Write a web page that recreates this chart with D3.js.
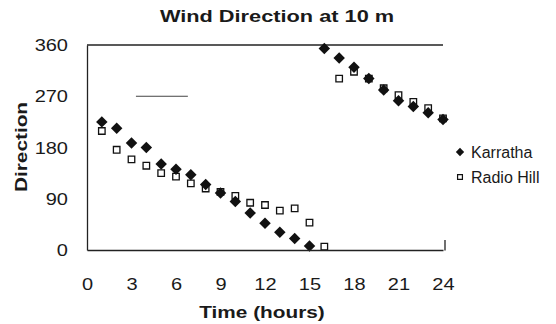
<!DOCTYPE html>
<html>
<head>
<meta charset="utf-8">
<script src="https://cdn.jsdelivr.net/npm/d3@7"></script>
<style>
  body { margin: 0; background: #fff; }
  text { font-family: "Liberation Sans", Arial, sans-serif; fill: #1a1a1a; }
</style>
</head>
<body>
<svg width="556" height="324"></svg>
<script>
// hours and wind direction (degrees)
const hours = d3.range(1, 25)
const karratha = [225, 214, 188, 180, 151, 142, 132, 115, 100, 85, 65, 47, 31, 20, 7,
  354, 337, 321, 301, 281, 262, 252, 241, 229]
const radioHill = [209, 176, 159, 148, 135, 129, 117, 108, 102, 95, 83, 79, 69, 73, 48,
  6, 301, 313, 301, 284, 272, 260, 249, 231]
const xTicks = [0, 3, 6, 9, 12, 15, 18, 21, 24]
const yTicks = [0, 90, 180, 270, 360]
const seriesNames = ['Karratha', 'Radio Hill']

const margin = {top: 44, right: 116, bottom: 74, left: 87}
const width = 556
const height = 324

const x = d3.scaleLinear().domain([0, 24]).range([margin.left, width - margin.right + 3])
const y = d3.scaleLinear().domain([0, 360]).range([height - margin.bottom, margin.top + 1])

const svg = d3.select('svg')
const ink = '#111'

// stray gridline fragment at 270
svg.append('line')
  .attr('x1', x(3.3)).attr('x2', x(6.8))
  .attr('y1', y(270)).attr('y2', y(270))
  .attr('stroke', '#444').attr('stroke-width', 1)

// top border
svg.append('line')
  .attr('x1', x(0)).attr('x2', x(24))
  .attr('y1', y(360)).attr('y2', y(360))
  .attr('stroke', '#222').attr('stroke-width', 1.3)

const diamond = d3.symbol().type(d3.symbolDiamond2)
const square = d3.symbol().type(d3.symbolSquare2)

svg.append('g')
  .selectAll('path')
  .data(hours.map((h, i) => ({h, v: radioHill[i]})))
  .join('path')
  .attr('transform', d => `translate(${x(d.h)},${y(d.v)})`)
  .attr('d', square.size(54)())
  .attr('fill', '#fff')
  .attr('stroke', ink)
  .attr('stroke-width', 1.3)

svg.append('g')
  .selectAll('path')
  .data(hours.map((h, i) => ({h, v: karratha[i]})))
  .join('path')
  .attr('transform', d => `translate(${x(d.h)},${y(d.v)})`)
  .attr('d', diamond.size(84)())
  .attr('fill', ink)

const yAxis = g => g
  .attr('transform', `translate(${x(0)},0)`)
  .call(d3.axisLeft(y).tickValues(yTicks).tickSize(0).tickSizeOuter(0))
  .call(g => g.select('.domain').attr('stroke', '#222').attr('stroke-width', 1.3))
  .call(g => g.selectAll('text')
    .attr('x', 0)
    .attr('dy', '0.35em')
    .attr('transform', 'translate(-19,0) scale(1.25,1)')
    .attr('font-size', 16)
    .attr('font-family', '"Liberation Sans", Arial, sans-serif')
    .attr('fill', '#1a1a1a'))

const xAxis = g => g
  .attr('transform', `translate(0,${y(0)})`)
  .call(d3.axisBottom(x).tickValues(xTicks).tickSize(0).tickSizeOuter(0))
  .call(g => g.select('.domain').attr('stroke', '#222').attr('stroke-width', 1.3))
  .call(g => g.selectAll('text')
    .attr('y', 0)
    .attr('dy', '0.35em')
    .attr('transform', 'translate(0,34) scale(1.25,1)')
    .attr('font-size', 16)
    .attr('font-family', '"Liberation Sans", Arial, sans-serif')
    .attr('fill', '#1a1a1a'))

svg.append('g').call(xAxis)
svg.append('g').call(yAxis)

// short end mark at the right of the x axis
svg.append('line')
  .attr('x1', x(24) + 2).attr('x2', x(24) + 2)
  .attr('y1', y(0) - 10).attr('y2', y(0) + 0.6)
  .attr('stroke', '#222').attr('stroke-width', 1.3)

svg.append('text')
  .attr('transform', 'translate(277,22) scale(1.28,1)')
  .attr('text-anchor', 'middle')
  .attr('font-weight', 'bold')
  .attr('font-size', 17)
  .text('Wind Direction at 10 m')

svg.append('text')
  .attr('transform', 'translate(262,318) scale(1.3,1)')
  .attr('text-anchor', 'middle')
  .attr('font-weight', 'bold')
  .attr('font-size', 16)
  .text('Time (hours)')

svg.append('text')
  .attr('transform', 'translate(21,147) rotate(-90) scale(1.3,1)')
  .attr('text-anchor', 'middle')
  .attr('dominant-baseline', 'central')
  .attr('font-weight', 'bold')
  .attr('font-size', 16)
  .text('Direction')

const legend = svg.append('g').attr('transform', 'translate(460,152)')
const items = legend.selectAll('g')
  .data(seriesNames)
  .join('g')
  .attr('transform', (d, i) => `translate(0,${i * 25})`)
items.append('path')
  .attr('d', (d, i) => i === 0 ? diamond.size(44)() : square.size(30)())
  .attr('fill', (d, i) => i === 0 ? ink : '#fff')
  .attr('stroke', (d, i) => i === 0 ? 'none' : ink)
  .attr('stroke-width', 1.2)
items.append('text')
  .attr('x', 11)
  .attr('dy', '0.35em')
  .attr('font-size', 16)
  .text(d => d)
</script>
</body>
</html>
